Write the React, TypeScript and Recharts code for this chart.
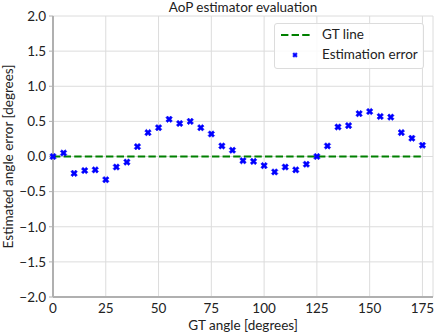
import { ComposedChart, Line, Scatter, XAxis, YAxis, CartesianGrid } from 'recharts';

const angles = [0, 5, 10, 15, 20, 25, 30, 35, 40, 45, 50, 55, 60, 65, 70, 75, 80, 85, 90, 95, 100, 105, 110, 115, 120, 125, 130, 135, 140, 145, 150, 155, 160, 165, 170, 175];
const errors = [0.0, 0.05, -0.24, -0.2, -0.19, -0.33, -0.15, -0.08, 0.14, 0.34, 0.41, 0.53, 0.47, 0.5, 0.41, 0.32, 0.15, 0.09, -0.06, -0.07, -0.13, -0.22, -0.15, -0.19, -0.11, 0.0, 0.15, 0.42, 0.44, 0.61, 0.64, 0.57, 0.56, 0.34, 0.26, 0.16];
const xTicks = [0, 25, 50, 75, 100, 125, 150, 175];
const yTicks = [-2, -1.5, -1, -0.5, 0, 0.5, 1, 1.5, 2];

const data = angles.map((a, i) => ({ angle: a, err: errors[i], gt: 0 }));

const FONT = 'Lato, "DejaVu Sans", sans-serif';
const TEXT = '#222';

const fmtY = (v: number) => (v < 0 ? '\u2212' + Math.abs(v).toFixed(1) : v.toFixed(1));

function xPoints(cx: number, cy: number, s: number, t: number) {
  return [
    [-s, -s + t], [-s + t, -s], [0, -t], [s - t, -s], [s, -s + t], [t, 0],
    [s, s - t], [s - t, s], [0, t], [-s + t, s], [-s, s - t], [-t, 0],
  ].map(([x, y]) => `${cx + x},${cy + y}`).join(' ');
}

function XMark(props: any) {
  const { cx, cy } = props;
  if (cx == null || cy == null) return null;
  return <polygon points={xPoints(cx, cy, 3.3, 1.7)} fill="#0000ff" stroke="#0000ff" strokeWidth={0.5} />;
}

function LegendBox() {
  return (
    <div style={{
      position: 'absolute', left: 274, top: 23, width: 150, height: 46,
      background: 'rgba(255,255,255,0.85)', border: '1px solid #dcdcdc', borderRadius: 3,
      fontFamily: FONT, fontSize: 13.5, color: TEXT, boxSizing: 'border-box',
    }}>
      <svg width={40} height={46} style={{ position: 'absolute', left: 0, top: 0 }}>
        <line x1={6} y1={11} x2={36} y2={11} stroke="#008000" strokeWidth={2.2} strokeDasharray="7.4 3.2" />
        <polygon points={xPoints(20, 31, 2.4, 1.3)} fill="#0000ff" stroke="#0000ff" strokeWidth={0.4} />
      </svg>
      <div style={{ position: 'absolute', left: 47, top: 2 }}>GT line</div>
      <div style={{ position: 'absolute', left: 47, top: 22 }}>Estimation error</div>
    </div>
  );
}

export default function App() {
  return (
    <div style={{ position: 'absolute', left: 0, top: 0, width: 436, height: 333, background: '#fff' }}>
      <div style={{
        position: 'absolute', left: 53, width: 380, top: -1, textAlign: 'center',
        fontFamily: FONT, fontSize: 13.5, color: TEXT,
      }}>
        AoP estimator evaluation
      </div>
      <ComposedChart
        width={436}
        height={333}
        data={data}
        margin={{ top: 16, right: 3, bottom: 0, left: 0 }}
      >
        <CartesianGrid stroke="#dcdcdc" strokeWidth={1} />
        <XAxis
          dataKey="angle"
          type="number"
          domain={[0, 180]}
          ticks={xTicks}
          interval={0}
          height={36}
          tickLine={false}
          axisLine={{ stroke: '#b0b0b0', strokeWidth: 2 }}
          tick={{ fontSize: 13.5, fill: TEXT, fontFamily: FONT }}
          tickMargin={0}
          label={{ value: 'GT angle [degrees]', position: 'insideBottom', offset: 3, fontSize: 13.5, fill: TEXT, fontFamily: FONT }}
        />
        <YAxis
          type="number"
          domain={[-2, 2]}
          ticks={yTicks}
          interval={0}
          width={53}
          tickSize={4}
          tickLine={{ stroke: '#b0b0b0' }}
          axisLine={{ stroke: '#b0b0b0', strokeWidth: 2 }}
          tickFormatter={fmtY}
          tick={{ fontSize: 13.5, fill: TEXT, fontFamily: FONT }}
          tickMargin={3}
          label={{ value: 'Estimated angle error [degrees]', angle: -90, position: 'insideLeft', offset: 0, dx: 8, fontSize: 13.5, fill: TEXT, fontFamily: FONT, style: { textAnchor: 'middle' } }}
        />
        <Line
          dataKey="gt"
          stroke="#008000"
          strokeWidth={2.2}
          strokeDasharray="7.4 3.2"
          dot={false}
          activeDot={false}
          isAnimationActive={false}
        />
        <Scatter dataKey="err" shape={<XMark />} isAnimationActive={false} />
      </ComposedChart>
      <LegendBox />
    </div>
  );
}
